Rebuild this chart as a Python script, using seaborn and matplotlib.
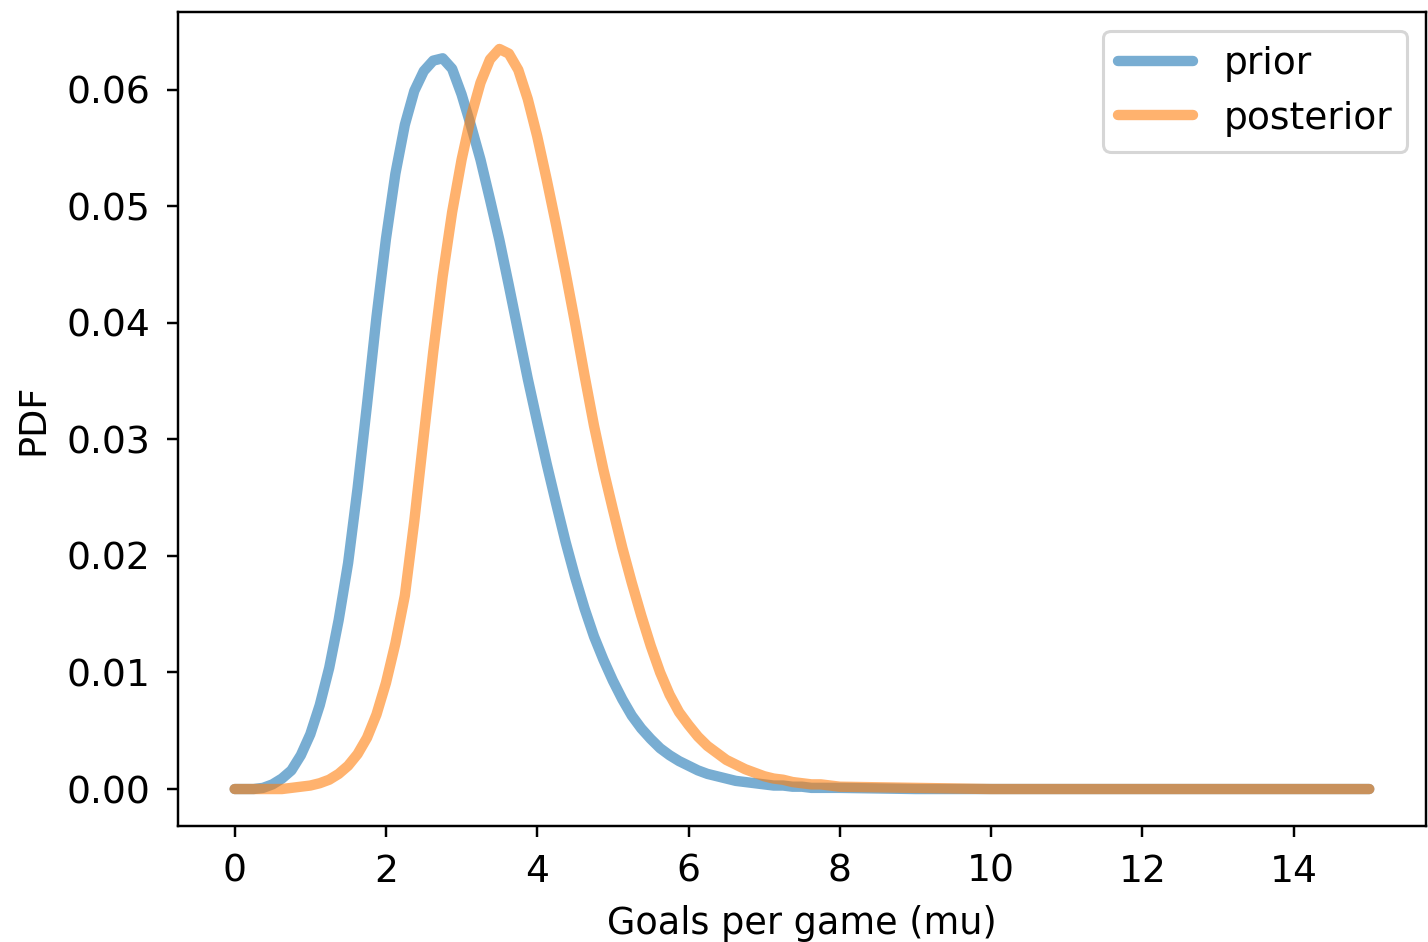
import matplotlib
matplotlib.use("Agg")
import matplotlib.pyplot as plt
import seaborn as sns
import pandas as pd

# Goals per game grid (mu) and values
mu = [0.000, 0.125, 0.250, 0.375, 0.500, 0.625, 0.750, 0.875,
      1.000, 1.125, 1.250, 1.375, 1.500, 1.625, 1.750, 1.875,
      2.000, 2.125, 2.250, 2.375, 2.500, 2.625, 2.750, 2.875,
      3.000, 3.125, 3.250, 3.375, 3.500, 3.625, 3.750, 3.875,
      4.000, 4.125, 4.250, 4.375, 4.500, 4.625, 4.750, 4.875,
      5.000, 5.125, 5.250, 5.375, 5.500, 5.625, 5.750, 5.875,
      6.000, 6.125, 6.250, 6.375, 6.500, 6.625, 6.750, 6.875,
      7.000, 7.125, 7.250, 7.375, 7.500, 7.625, 7.750, 7.875,
      8.000, 9.000, 10.000, 11.000, 12.000, 13.000, 14.000, 15.000]

prior = [0.0000, 0.0000, 0.0000, 0.0001, 0.0004, 0.0009, 0.0016, 0.0029,
         0.0047, 0.0072, 0.0104, 0.0145, 0.0194, 0.0258, 0.0330, 0.0405,
         0.0472, 0.0528, 0.0570, 0.0599, 0.0616, 0.0625, 0.0627, 0.0618,
         0.0596, 0.0569, 0.0540, 0.0506, 0.0471, 0.0432, 0.0392, 0.0352,
         0.0315, 0.0279, 0.0245, 0.0212, 0.0182, 0.0155, 0.0131, 0.0111,
         0.0093, 0.0077, 0.0063, 0.0052, 0.0043, 0.0035, 0.0029, 0.0024,
         0.0020, 0.0016, 0.0013, 0.0011, 0.0009, 0.0007, 0.0006, 0.0005,
         0.0004, 0.0003, 0.0003, 0.0002, 0.0002, 0.0001, 0.0001, 0.0001,
         0.0001, 0.0000, 0.0000, 0.0000, 0.0000, 0.0000, 0.0000, 0.0000]

posterior = [0.0000, 0.0000, 0.0000, 0.0000, 0.0000, 0.0000, 0.0001, 0.0002,
             0.0003, 0.0005, 0.0008, 0.0013, 0.0020, 0.0030, 0.0044, 0.0064,
             0.0091, 0.0125, 0.0166, 0.0230, 0.0303, 0.0375, 0.0440, 0.0495,
             0.0540, 0.0577, 0.0606, 0.0626, 0.0635, 0.0631, 0.0617, 0.0592,
             0.0560, 0.0523, 0.0484, 0.0443, 0.0400, 0.0355, 0.0312, 0.0274,
             0.0240, 0.0207, 0.0177, 0.0149, 0.0123, 0.0100, 0.0081, 0.0066,
             0.0055, 0.0045, 0.0037, 0.0031, 0.0025, 0.0021, 0.0017, 0.0014,
             0.0011, 0.0009, 0.0008, 0.0006, 0.0005, 0.0004, 0.0004, 0.0003,
             0.0002, 0.0001, 0.0000, 0.0000, 0.0000, 0.0000, 0.0000, 0.0000]

series_labels = ["prior", "posterior"]
xlabel = "Goals per game (mu)"
ylabel = "PDF"

sns.set_style("ticks", {"axes.edgecolor": "black", "xtick.color": "black",
                        "ytick.color": "black", "text.color": "black",
                        "axes.labelcolor": "black"})
plt.rcParams["font.family"] = ["DejaVu Sans"]
plt.rcParams["font.size"] = 12

DPI = 220
fig, ax = plt.subplots(figsize=(1428 / DPI, 942 / DPI), dpi=DPI)

df = pd.DataFrame({"mu": mu, "prior": prior, "posterior": posterior})
colors = ["#1f77b4", "#ff7f0e"]
for name, col in zip(series_labels, colors):
    sns.lineplot(data=df, x="mu", y=name, ax=ax, color=col, alpha=0.6,
                 linewidth=3.4, label=name)

ax.set_xlabel(xlabel, fontsize=12, labelpad=5)
ax.set_ylabel(ylabel, fontsize=12, labelpad=5)
ax.set_xticks(range(0, 15, 2))
ax.tick_params(axis="x", labelsize=12.3, pad=5.5)
ax.tick_params(axis="y", labelsize=12.3, pad=5.5)
ax.legend(loc="upper right", fontsize=12.3)

fig.subplots_adjust(left=0.1246, right=0.9986, top=0.9873, bottom=0.1231)
fig.savefig("out.png", dpi=DPI)
